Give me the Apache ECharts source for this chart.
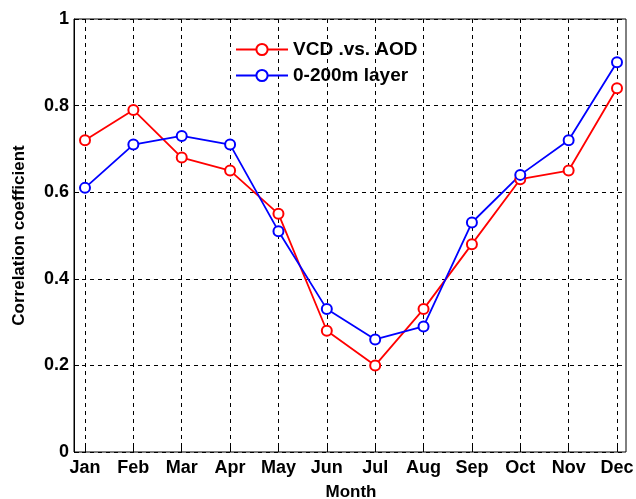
<!DOCTYPE html>
<html>
<head>
<meta charset="utf-8">
<script src="https://cdn.jsdelivr.net/npm/echarts@6/dist/echarts.min.js"></script>
<style>html,body{margin:0;padding:0;background:#fff}#c{width:636px;height:499px}</style>
</head>
<body>
<div id="c"></div>
<script>
const months = ['Jan','Feb','Mar','Apr','May','Jun','Jul','Aug','Sep','Oct','Nov','Dec'];
const vcdVsAod = [0.72, 0.79, 0.68, 0.65, 0.55, 0.28, 0.20, 0.33, 0.48, 0.63, 0.65, 0.84];
const layer0to200 = [0.61, 0.71, 0.73, 0.71, 0.51, 0.33, 0.26, 0.29, 0.53, 0.64, 0.72, 0.90];
const seriesNames = ['VCD .vs. AOD', '0-200m layer'];
const yTicks = [0, 0.2, 0.4, 0.6, 0.8, 1];

const font = 'Liberation Sans, Arial, sans-serif';
const chart = echarts.init(document.getElementById('c'));
chart.setOption({
  animation: false,
  backgroundColor: '#fff',
  textStyle: {fontFamily: font},
  grid: [
    {left: 74, right: 10, top: 19, bottom: 47, show: true, borderColor: '#000', borderWidth: 1,
     backgroundColor: 'transparent', containLabel: false, outerBoundsMode: 'none'},
    {left: 85, right: 19, top: 19, bottom: 47, containLabel: false, outerBoundsMode: 'none'}
  ],
  legend: {
    orient: 'vertical', left: 230, top: 35, itemGap: 7, itemWidth: 52, itemHeight: 14,
    textStyle: {fontFamily: font, fontWeight: 'bold', fontSize: 19, color: '#000'},
    data: seriesNames
  },
  xAxis: [
    {gridIndex: 0, type: 'value', min: 0, max: 1, show: false},
    {gridIndex: 1, type: 'category', data: months, boundaryGap: false,
     axisLine: {show: false},
     axisTick: {show: true, inside: true, length: 5, lineStyle: {color: '#000'}},
     axisLabel: {color: '#000', fontWeight: 'bold', fontSize: 18, margin: 7, interval: 0, fontFamily: font},
     splitLine: {show: true, lineStyle: {color: '#000', type: [4, 4], width: 1}},
     name: 'Month', nameLocation: 'middle', nameGap: 32,
     nameTextStyle: {color: '#000', fontWeight: 'bold', fontSize: 17, fontFamily: font}},
  ],
  yAxis: [
    {gridIndex: 0, type: 'value', min: 0, max: 1, interval: 0.2,
     axisLine: {show: true, lineStyle: {color: '#000'}},
     axisTick: {show: true, inside: true, length: 5, lineStyle: {color: '#000'}},
     axisLabel: {color: '#000', fontWeight: 'bold', fontSize: 18, margin: 5, fontFamily: font,
       formatter: v => (v === 0 || v === 1) ? String(v) : v.toFixed(1)},
     splitLine: {show: true, lineStyle: {color: '#000', type: [4, 4], width: 1}},
     name: 'Correlation coefficient', nameLocation: 'middle', nameGap: 46,
     nameTextStyle: {color: '#000', fontWeight: 'bold', fontSize: 17, fontFamily: font}},
    {gridIndex: 1, type: 'value', min: 0, max: 1, show: false}
  ],
  series: [
    {name: seriesNames[0], type: 'line', xAxisIndex: 1, yAxisIndex: 1, data: vcdVsAod,
     symbol: 'emptyCircle', symbolSize: 10, showAllSymbol: true,
     lineStyle: {color: '#ff0000', width: 1.8}, itemStyle: {color: '#ff0000', borderWidth: 1.8}},
    {name: seriesNames[1], type: 'line', xAxisIndex: 1, yAxisIndex: 1, data: layer0to200,
     symbol: 'emptyCircle', symbolSize: 10, showAllSymbol: true,
     lineStyle: {color: '#0000ff', width: 1.8}, itemStyle: {color: '#0000ff', borderWidth: 1.8}}
  ]
});
</script>
</body>
</html>
